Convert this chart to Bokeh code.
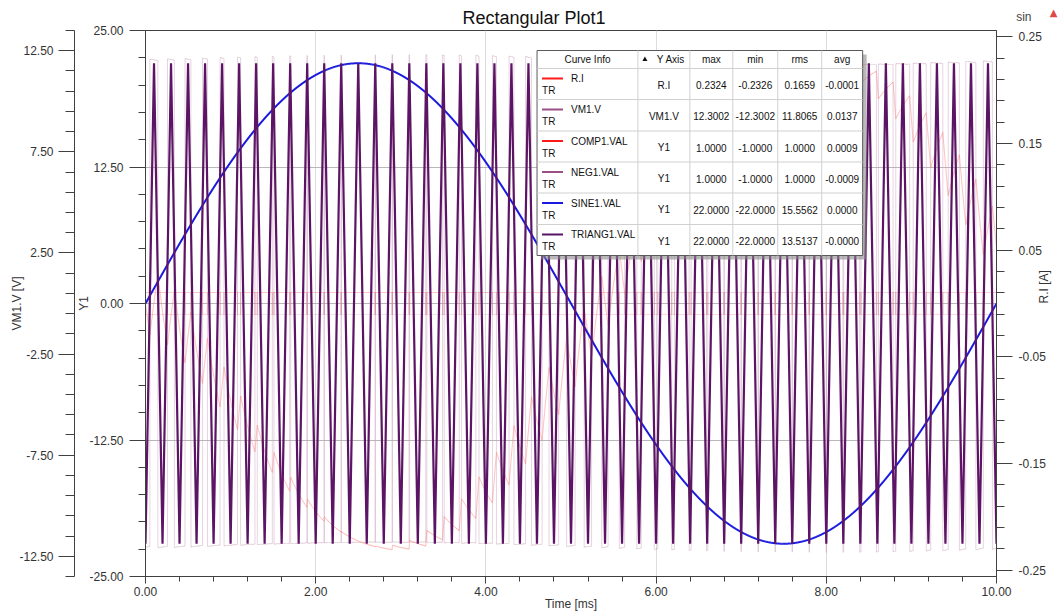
import math
import numpy as np
from bokeh.plotting import figure
from bokeh.models import Range1d, LinearAxis, FixedTicker, PrintfTickFormatter, Title
from bokeh.embed import file_html
from bokeh.resources import INLINE
from bokeh.core.properties import value

# ---- curve summary table (as reported by the simulator) ----
curve_names = ["R.I", "VM1.V", "COMP1.VAL", "NEG1.VAL", "SINE1.VAL", "TRIANG1.VAL"]
curve_axes = ["R.I", "VM1.V", "Y1", "Y1", "Y1", "Y1"]
curve_max = [0.2324, 12.3002, 1.0, 1.0, 22.0, 22.0]
curve_min = [-0.2326, -12.3002, -1.0, -1.0, -22.0, -22.0]
curve_rms = [0.1659, 11.8065, 1.0, 1.0, 15.5562, 13.5137]
curve_avg = [-0.0001, 0.0137, 0.0009, -0.0009, 0.0, -0.0]
curve_colors = ["#ff1a1a", "#9a4f86", "#ff1a1a", "#9a4f86", "#1a1adf", "#5a1466"]

# ---- source / load setup of the PWM circuit ----
t_stop_ms = 10.0
sine_period_ms = 10.0
tri_period_ms = 0.2
sine_amp = curve_max[4]
tri_amp = curve_max[5]
supply_v = 12.05
src_r = 1.1
load_r = 50.0
load_l = 0.02
step_ms = 0.0005

# ---- axis ranges and ticks ----
y1_lim = 25.0
vm_lim = 13.5
ri_lim = 0.2558
time_ticks = [0, 2, 4, 6, 8, 10]
y1_ticks = [-25, -12.5, 0, 12.5, 25]
vm_ticks = [-12.5, -7.5, -2.5, 2.5, 7.5, 12.5]
ri_ticks = [-0.25, -0.15, -0.05, 0.05, 0.15, 0.25]

# ---- transient run ----
t = np.arange(0.0, t_stop_ms + step_ms / 2, step_ms)
sine = sine_amp * np.sin(2 * np.pi * t / sine_period_ms)
ph = (t / tri_period_ms) % 1.0
tri = tri_amp * (1 - 4 * np.abs(ph - 0.5))
comp = np.where(sine >= tri, 1.0, -1.0)
neg = -comp
cur = np.zeros_like(t)
dt_s = step_ms * 1e-3
for k in range(len(t) - 1):
    cur[k + 1] = cur[k] + dt_s * (supply_v * neg[k] - (load_r + src_r) * cur[k]) / load_l
vm = supply_v * neg - src_r * cur

# triangle corners
tri_t = np.arange(0.0, t_stop_ms + 1e-9, tri_period_ms / 2)
tri_v = np.where(np.arange(len(tri_t)) % 2 == 0, -tri_amp, tri_amp)

W, H = 1060, 613
FL, FR, FT, FB = 145, 997, 30, 576

p = figure(width=W, height=H, output_backend="svg", toolbar_location=None,
           x_range=Range1d(0, t_stop_ms), y_range=Range1d(-y1_lim, y1_lim),
           min_border_left=FL, min_border_right=W - FR, min_border_top=FT,
           min_border_bottom=H - FB, background_fill_color="white",
           border_fill_color="white", outline_line_color="#404040")
p.extra_y_ranges = {"vm": Range1d(-vm_lim, vm_lim), "ri": Range1d(-ri_lim, ri_lim),
                    "py": Range1d(FB, FT)}
p.extra_x_ranges = {"px": Range1d(FL, FR)}

FONT = "Liberation Sans"
AX = "#404040"


def style_axis(ax, label, tick_out, minor_out, lab_stand, axl_stand):
    ax.axis_label = label
    ax.axis_label_text_font = FONT
    ax.axis_label_text_font_size = "12px"
    ax.axis_label_text_font_style = "normal"
    ax.axis_label_text_color = "#333333"
    ax.axis_label_standoff = axl_stand
    ax.major_label_text_font = FONT
    ax.major_label_text_font_size = "12px"
    ax.major_label_text_color = "#333333"
    ax.major_label_standoff = lab_stand
    ax.axis_line_color = AX
    ax.major_tick_line_color = AX
    ax.minor_tick_line_color = AX
    ax.major_tick_out = tick_out
    ax.major_tick_in = 0
    ax.minor_tick_out = minor_out
    ax.minor_tick_in = 0


# time axis
xa = p.xaxis[0]
xa.ticker = FixedTicker(ticks=time_ticks, minor_ticks=list(np.arange(0, 10.01, 0.4)))
xa.formatter = PrintfTickFormatter(format="%.2f")
style_axis(xa, "Time [ms]", 7, 5, 3, -2)

# Y1 axis (next to the frame)
ya = p.yaxis[0]
ya.ticker = FixedTicker(ticks=y1_ticks, minor_ticks=list(np.arange(-25, 25.01, 2.5)))
ya.formatter = PrintfTickFormatter(format="%.2f")
style_axis(ya, "Y1", 16, 7, 6, -5)

# VM1.V axis (outer left)
va = LinearAxis(y_range_name="vm")
va.ticker = FixedTicker(ticks=vm_ticks, minor_ticks=list(np.arange(-13.5, 13.51, 1.0)))
va.formatter = PrintfTickFormatter(format="%.2f")
style_axis(va, "VM1.V [V]", 16, 9, 5, -8)
p.add_layout(va, "left")

# R.I axis (right)
ra = LinearAxis(y_range_name="ri")
ra.ticker = FixedTicker(ticks=ri_ticks, minor_ticks=list(np.arange(-0.25, 0.2501, 0.02)))
ra.formatter = PrintfTickFormatter(format="%.2f")
style_axis(ra, "R.I [A]", 16, 8, 6, -5)
ra.axis_label_orientation = math.pi / 2
p.add_layout(ra, "right")

p.xgrid.ticker = FixedTicker(ticks=time_ticks)
p.xgrid.grid_line_color = "#dcdcdc"
p.ygrid.ticker = FixedTicker(ticks=y1_ticks)
p.ygrid.grid_line_color = "#b8b8b8"

# faded traces
p.line(t, vm, y_range_name="vm", line_color="#c9a0bd", line_alpha=0.45, line_width=1)
p.line(t, cur, y_range_name="ri", line_color="#ff8a8a", line_alpha=0.6, line_width=1)
p.line(t, comp, line_color="#ff7070", line_alpha=0.35, line_width=1)
p.line(t, neg, line_color="#c08ab0", line_alpha=0.35, line_width=1)
# active traces
p.line(t, sine, line_color="#1a1adf", line_width=2)
p.line(tri_t, tri_v, line_color="#5c1464", line_width=2.2)

# ---- curve info table (pixel coordinates) ----
col_x = [537, 638, 690, 733, 778, 822, 863]
row_y = [50, 68, 99, 130.5, 161.5, 192.5, 224, 255]
tk = dict(x_range_name="px", y_range_name="py")

p.quad(left=[col_x[0] + 4], right=[col_x[-1] + 4], top=[row_y[0] + 4], bottom=[row_y[-1] + 4],
       fill_color="#8a8a8a", fill_alpha=0.6, line_color=None, **tk)
p.quad(left=[col_x[0]], right=[col_x[-1]], top=[row_y[0]], bottom=[row_y[-1]],
       fill_color="white", line_color="#5a5a5a", line_width=1, **tk)
inner_x = col_x[1:-1]
p.segment(x0=inner_x, x1=inner_x, y0=[row_y[0]] * len(inner_x), y1=[row_y[-1]] * len(inner_x),
          line_color="#d0d0d0", line_width=1, **tk)
inner_y = row_y[1:-1]
p.segment(x0=[col_x[0]] * len(inner_y), x1=[col_x[-1]] * len(inner_y), y0=inner_y, y1=inner_y,
          line_color="#d0d0d0", line_width=1, **tk)

centers = [(col_x[i] + col_x[i + 1]) / 2 for i in range(len(col_x) - 1)]
hy = (row_y[0] + row_y[1]) / 2
head_txt = ["Curve Info", "Y Axis", "max", "min", "rms", "avg"]
head_x = [centers[0], 671, centers[2], centers[3], centers[4], centers[5]]
p.text(x=head_x, y=[hy] * 6, text=head_txt, text_font=value(FONT), text_font_size="10px",
       text_align="center", text_baseline="middle", text_color="#111111", **tk)
p.scatter(x=[645], y=[hy], marker="triangle", size=5, fill_color="#111111", line_color=None, **tk)

tops = row_y[1:-1]
n = len(curve_names)
p.segment(x0=[542] * n, x1=[563] * n, y0=[r + 10 for r in tops], y1=[r + 10 for r in tops],
          line_color=curve_colors, line_width=2, **tk)
p.text(x=[571] * n, y=[r + 10 for r in tops], text=curve_names, text_font=value(FONT),
       text_font_size="10px", text_align="left", text_baseline="middle", text_color="#111111", **tk)
p.text(x=[542] * n, y=[r + 22 for r in tops], text=["TR"] * n, text_font=value(FONT),
       text_font_size="10px", text_align="left", text_baseline="middle", text_color="#111111", **tk)
cols = [curve_axes,
        [f"{v:.4f}" for v in curve_max],
        [f"{v:.4f}" for v in curve_min],
        [f"{v:.4f}" for v in curve_rms],
        [f"{v:.4f}" for v in curve_avg]]
for ci, vals in enumerate(cols):
    p.text(x=[centers[ci + 1]] * n, y=[r + 16.5 for r in tops], text=vals, text_font=value(FONT),
           text_font_size="10px", text_align="center", text_baseline="middle",
           text_color="#111111", **tk)

# ---- title row: main title plus the corner "sin" tag and marker ----
main_title = Title(text="Rectangular Plot1", align="left", offset=317, vertical_align="bottom",
                   standoff=6, text_font=FONT, text_font_size="18px", text_font_style="normal",
                   text_color="#111111")
sin_tag = Title(text="sin", align="right", offset=-35, vertical_align="bottom", standoff=-42,
                text_font=FONT, text_font_size="12px", text_font_style="normal",
                text_color="#444444")
warn_tag = Title(text="\u25b2", align="right", offset=-61, vertical_align="bottom", standoff=-30,
                 text_font="DejaVu Sans", text_font_size="10px", text_font_style="normal",
                 text_color="#e04848")
p.add_layout(main_title, "above")
p.add_layout(sin_tag, "above")
p.add_layout(warn_tag, "above")

open("out.html", "w").write(file_html(p, INLINE))
